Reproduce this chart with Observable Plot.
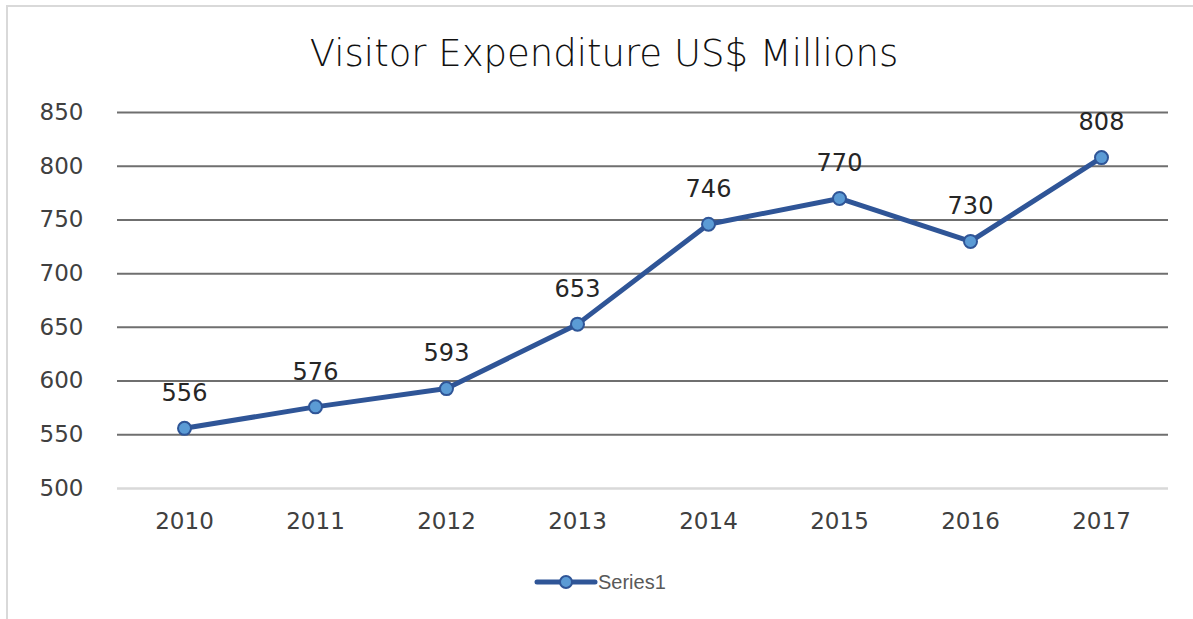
<!DOCTYPE html>
<html>
<head>
<meta charset="utf-8">
<script src="https://cdn.jsdelivr.net/npm/d3@7"></script>
<script src="https://cdn.jsdelivr.net/npm/@observablehq/plot@0.6"></script>
<style>
  html, body { margin: 0; padding: 0; background: #fff; }
  #wrap { position: relative; width: 1193px; height: 619px; overflow: hidden; }
  #frame { position: absolute; left: 6px; top: 5px; width: 1200px; height: 620px;
           border-left: 2px solid #d9d9d9; border-top: 2px solid #d9d9d9; }
  #title { position: absolute; left: 0; width: 1208px; top: 32px; text-align: center;
           font-family: "DejaVu Sans", sans-serif; font-size: 37px; font-weight: 300; color: #111;
           letter-spacing: 0px; line-height: 44px; }
  #chart { position: absolute; left: 0; top: 0; }
  #legend { position: absolute; left: 534px; top: 570px; display: flex; align-items: center;
            font-family: "Liberation Sans", "Noto Sans", sans-serif; font-size: 20px; color: #595959; }
</style>
</head>
<body>
<div id="wrap">
  <div id="frame"></div>
  <div id="chart"></div>
  <div id="title"></div>
  <div id="legend"></div>
</div>
<script>
const chartTitle = "Visitor Expenditure US$ Millions";
const years = ["2010", "2011", "2012", "2013", "2014", "2015", "2016", "2017"];
const values = [556, 576, 593, 653, 746, 770, 730, 808];
const yTicks = [500, 550, 600, 650, 700, 750, 800, 850];
const seriesName = "Series1";

const data = years.map((y, i) => ({year: y, value: values[i]}));
const lineColor = "#2F5597";
const dotFill = "#5B9BD5";
const font = "DejaVu Sans, sans-serif";

document.getElementById("title").textContent = chartTitle;

const plot = Plot.plot({
  width: 1193,
  height: 619,
  marginLeft: 117,
  marginRight: 25,
  marginTop: 112,
  marginBottom: 131,
  style: { fontFamily: font, fontSize: "23px", color: "#404040", background: "transparent" },
  x: { type: "point", domain: years, padding: 0.5, label: null },
  y: { domain: [500, 850], label: null },
  marks: [
    Plot.ruleY(yTicks.filter(d => d > 500), { stroke: "#6f6f6f", strokeWidth: 2 }),
    Plot.ruleY([500], { stroke: "#d9d9d9", strokeWidth: 2.5 }),
    Plot.axisY({ ticks: yTicks, tickSize: 0, tickPadding: 34, fontSize: 23, fill: "#404040", label: null }),
    Plot.axisX({ ticks: years, tickSize: 0, tickPadding: 24, fontSize: 23, fill: "#404040", label: null }),
    Plot.line(data, { x: "year", y: "value", stroke: lineColor, strokeWidth: 5, strokeLinejoin: "round", strokeLinecap: "round" }),
    Plot.dot(data, { x: "year", y: "value", r: 6.5, fill: dotFill, stroke: lineColor, strokeWidth: 2 }),
    Plot.text(data, { x: "year", y: "value", text: d => String(d.value), dy: -35, fontSize: 24, fill: "#262626" })
  ]
});
document.getElementById("chart").appendChild(plot);

// legend
const leg = d3.select("#legend");
const ls = leg.append("svg").attr("width", 64).attr("height", 24);
ls.append("line").attr("x1", 3).attr("x2", 61).attr("y1", 12).attr("y2", 12)
  .attr("stroke", lineColor).attr("stroke-width", 5).attr("stroke-linecap", "round");
ls.append("circle").attr("cx", 32).attr("cy", 12).attr("r", 6).attr("fill", dotFill)
  .attr("stroke", lineColor).attr("stroke-width", 2);
leg.append("span").text(seriesName);
</script>
</body>
</html>
